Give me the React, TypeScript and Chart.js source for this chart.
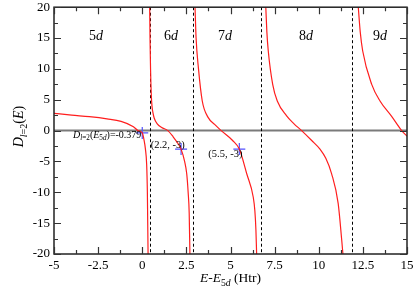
import React, { useEffect, useRef } from 'react';
import { Chart, registerables } from 'chart.js';
Chart.register(...registerables);

// ---- data ----
const branch1E = [-5, -4, -3, -2, -1.2, -0.5, -0.24, 0, 0.1, 0.18, 0.25, 0.29, 0.31, 0.33];
const branch1D = [2.8, 2.5, 2.25, 1.9, 1.5, 0.64, 0, -0.379, -1.5, -3, -5.5, -10, -15, -20];
const branch2E = [0.42, 0.44, 0.47, 0.51, 0.55, 0.6, 0.68, 0.85, 1.1, 1.45, 1.75, 2.0, 2.2, 2.4, 2.52, 2.6, 2.66, 2.7];
const branch2D = [20, 15, 10, 6, 4, 3, 2, 1.1, 0.5, 0, -1, -2, -3, -5, -7, -10, -13.4, -20];
const branch3E = [2.99, 3.05, 3.18, 3.4, 3.74, 4.1, 4.47, 5.12, 5.5, 5.92, 6.29, 6.38, 6.44, 6.48];
const branch3D = [20, 15, 10.2, 4.8, 2.1, 1.0, 0, -1.6, -3, -7, -10.8, -13, -16.1, -20];
const branch4E = [7.0, 7.06, 7.14, 7.39, 7.65, 8.18, 8.6, 9.03, 9.6, 10.07, 10.4, 10.73, 11.1, 11.3, 11.37];
const branch4D = [20, 16, 12.9, 7.5, 4.8, 2.4, 1.1, 0, -1.6, -3.0, -4.5, -7, -11.8, -17.7, -20];
const branch5E = [12.24, 12.35, 12.49, 13.0, 13.47, 14.13, 14.7, 15];
const branch5D = [20, 16, 12.9, 7.5, 4.8, 2.3, 0, -0.9];
const markerE = [0, 2.2, 5.5];
const markerD = [-0.379, -3, -3];
const poleE = [0.42, 2.89, 6.75, 11.87];
const shellNames = ['5', '6', '7', '8', '9'];
const shellLabelE = [-2.62, 1.63, 4.69, 9.28, 13.47];
const shellLabelD = 14.7;
const pointLabels = ['(2.2, -3)', '(5.5, -3)'];
const pointLabelE = [0.48, 3.74];
const pointLabelD = [-2.8, -4.35];
const valueLabelE = -3.92;
const valueLabelD = -1.13;
const valueText = '=-0.379';
const xMin = -5, xMax = 15, xStep = 2.5;
const yMin = -20, yMax = 20, yStep = 5;

const FF = "'Liberation Serif', 'Times New Roman', serif";

type Seg = { t: string; it?: boolean; sub?: boolean };

function segFont(s: Seg, size: number) {
  return `${s.it ? 'italic ' : ''}${s.sub ? size * 0.72 : size}px ${FF}`;
}

function drawRich(ctx: CanvasRenderingContext2D, segs: Seg[], x: number, y: number, size: number, align: 'left' | 'center') {
  let w = 0;
  for (const s of segs) {
    ctx.font = segFont(s, size);
    w += ctx.measureText(s.t).width;
  }
  let cx = align === 'center' ? x - w / 2 : x;
  ctx.textBaseline = 'alphabetic';
  ctx.textAlign = 'left';
  for (const s of segs) {
    ctx.font = segFont(s, size);
    ctx.fillText(s.t, cx, s.sub ? y + size * 0.28 : y);
    cx += ctx.measureText(s.t).width;
  }
}

const zip = (xs: number[], ys: number[]) => xs.map((x, i) => ({ x, y: ys[i] }));

const decorPlugin = {
  id: 'decor',
  beforeDatasetsDraw(chart: any) {
    const { ctx, chartArea: a, scales } = chart;
    const xs = scales.x, ys = scales.y;
    ctx.save();
    ctx.strokeStyle = '#7a7a7a';
    ctx.lineWidth = 2;
    ctx.beginPath();
    const y0 = ys.getPixelForValue(0);
    ctx.moveTo(a.left, y0);
    ctx.lineTo(a.right, y0);
    ctx.stroke();
    ctx.strokeStyle = '#000';
    ctx.lineWidth = 1;
    ctx.setLineDash([3, 2.5]);
    for (const e of poleE) {
      const px = Math.round(xs.getPixelForValue(e)) + 0.5;
      ctx.beginPath();
      ctx.moveTo(px, a.top);
      ctx.lineTo(px, a.bottom);
      ctx.stroke();
    }
    ctx.restore();
  },
  afterDatasetsDraw(chart: any) {
    const { ctx, chartArea: a, scales } = chart;
    const xs = scales.x, ys = scales.y;
    ctx.save();
    ctx.fillStyle = '#000';
    ctx.strokeStyle = '#222';
    ctx.lineWidth = 1.5;
    ctx.strokeRect(a.left, a.top, a.right - a.left, a.bottom - a.top);
    ctx.lineWidth = 1.2;
    ctx.strokeStyle = '#333';
    ctx.beginPath();
    for (let v = xMin; v <= xMax + 1e-9; v += xStep / 2) {
      const major = Math.abs(v / xStep - Math.round(v / xStep)) < 1e-6;
      const len = major ? 7 : 4;
      const px = Math.round(xs.getPixelForValue(v)) + 0.5;
      ctx.moveTo(px, a.bottom);
      ctx.lineTo(px, a.bottom - len);
      ctx.moveTo(px, a.top);
      ctx.lineTo(px, a.top + len);
    }
    for (let v = yMin; v <= yMax + 1e-9; v += yStep / 2) {
      const major = Math.abs(v / yStep - Math.round(v / yStep)) < 1e-6;
      const len = major ? 7 : 4;
      const py = Math.round(ys.getPixelForValue(v)) + 0.5;
      ctx.moveTo(a.left, py);
      ctx.lineTo(a.left + len, py);
      ctx.moveTo(a.right, py);
      ctx.lineTo(a.right - len, py);
    }
    ctx.stroke();

    shellNames.forEach((n, i) => {
      drawRich(ctx, [{ t: n }, { t: 'd', it: true }], xs.getPixelForValue(shellLabelE[i]), ys.getPixelForValue(shellLabelD), 14, 'center');
    });
    drawRich(ctx, [
      { t: 'D', it: true }, { t: 'l', it: true, sub: true }, { t: '=2', sub: true },
      { t: '(' }, { t: 'E', it: true }, { t: '5', sub: true }, { t: 'd', it: true, sub: true }, { t: ')' + valueText },
    ], xs.getPixelForValue(valueLabelE), ys.getPixelForValue(valueLabelD), 10, 'left');
    pointLabels.forEach((t, i) => {
      drawRich(ctx, [{ t }], xs.getPixelForValue(pointLabelE[i]), ys.getPixelForValue(pointLabelD[i]), 10.5, 'left');
    });
    drawRich(ctx, [
      { t: 'E', it: true }, { t: '-' }, { t: 'E', it: true }, { t: '5', sub: true }, { t: 'd', it: true, sub: true }, { t: ' (Htr)' },
    ], (a.left + a.right) / 2, 282, 13.5, 'center');
    ctx.save();
    ctx.translate(19, (a.top + a.bottom) / 2 - 4);
    ctx.rotate(-Math.PI / 2);
    drawRich(ctx, [
      { t: 'D', it: true }, { t: 'l', it: true, sub: true }, { t: '=2', sub: true }, { t: '(' }, { t: 'E', it: true }, { t: ')' },
    ], 0, 4, 14, 'center');
    ctx.restore();
    ctx.restore();
  },
};

export default function App() {
  const ref = useRef<HTMLCanvasElement>(null);
  useEffect(() => {
    if (!ref.current) return;
    const curve = (xs: number[], ys: number[]) => ({
      type: 'line' as const,
      data: zip(xs, ys),
      borderColor: 'rgb(255,30,30)',
      borderWidth: 1.2,
      pointRadius: 0,
      cubicInterpolationMode: 'monotone' as const,
      fill: false,
    });
    const chart = new Chart(ref.current, {
      type: 'scatter',
      data: {
        datasets: [
          curve(branch1E, branch1D),
          curve(branch2E, branch2D),
          curve(branch3E, branch3D),
          curve(branch4E, branch4D),
          curve(branch5E, branch5D),
          {
            type: 'scatter',
            data: zip(markerE, markerD),
            pointStyle: 'cross',
            pointRadius: 6,
            borderColor: 'rgb(80,80,255)',
            borderWidth: 1.2,
            backgroundColor: 'rgb(80,80,255)',
          } as any,
        ],
      },
      options: {
        animation: false,
        responsive: false,
        devicePixelRatio: 1,
        layout: { padding: { left: 0, right: 8, top: 6, bottom: 0 } },
        plugins: { legend: { display: false }, tooltip: { enabled: false } },
        scales: {
          x: {
            type: 'linear',
            min: xMin,
            max: xMax,
            grid: { display: false, drawTicks: false },
            border: { display: false },
            ticks: {
              stepSize: xStep,
              padding: 4,
              color: '#000',
              font: { family: FF, size: 13 },
              maxRotation: 0,
              callback: (v: any) => String(v),
            },
            afterFit: (s: any) => {
              s.height = 37;
              s.paddingLeft = 0;
              s.paddingRight = 0;
            },
          },
          y: {
            type: 'linear',
            min: yMin,
            max: yMax,
            grid: { display: false, drawTicks: false },
            border: { display: false },
            ticks: {
              stepSize: yStep,
              padding: 4,
              color: '#000',
              font: { family: FF, size: 13 },
              callback: (v: any) => String(v),
            },
            afterFit: (s: any) => {
              s.width = 54;
              s.paddingTop = 0;
              s.paddingBottom = 0;
            },
          },
        },
      },
      plugins: [decorPlugin],
    });
    return () => chart.destroy();
  }, []);
  return (
    <div style={{ position: 'absolute', left: 0, top: 0, width: 415, height: 291, background: '#fff' }}>
      <canvas ref={ref} width={415} height={291} style={{ display: 'block' }} />
    </div>
  );
}
